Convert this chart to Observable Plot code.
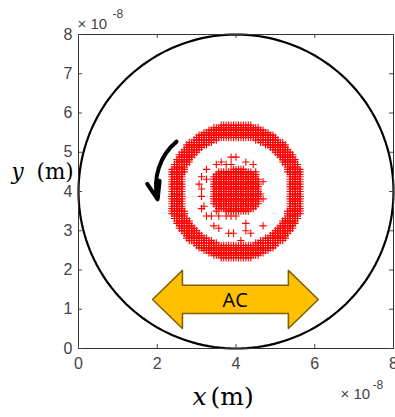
<!DOCTYPE html>
<html><head><meta charset="utf-8">
<script src="https://cdn.jsdelivr.net/npm/d3@7"></script>
<script src="https://cdn.jsdelivr.net/npm/@observablehq/plot@0.6"></script>
<style>html,body{margin:0;padding:0;background:#fff;} #chart svg{display:block}</style>
</head><body><div id="chart"></div>
<script>
// Axis domains and ticks (units of 1e-8 m)
const xDomain = [0, 8];
const yDomain = [0, 8];
const xTicks = [0, 2, 4, 6, 8];
const yTicks = [0, 1, 2, 3, 4, 5, 6, 7, 8];
const exponentText = ["× 10", "-8"];
const xTitle = ["x", "(m)"];
const yTitle = ["y", "(m)"];

// Circular boundary
const boundaryCenter = [4, 4];
const boundaryRadius = [4];

// Particle lattice, run-length coded rows, top to bottom
const latticeCenter = [4, 4];
const latticeStep = [0.0625];
const particleRows = [
  "21.13#21.",
  "18.19#18.",
  "16.23#16.",
  "14.27#14.",
  "12.31#12.",
  "11.33#11.",
  "10.10#15.10#10.",
  "8.10#19.10#8.",
  "7.9#23.9#7.",
  "7.7#27.7#7.",
  "6.7#29.7#6.",
  "5.7#31.7#5.",
  "4.7#33.7#4.",
  "4.6#15.1#1.1#17.6#4.",
  "3.6#37.6#3.",
  "3.6#12.1#9.1#14.6#3.",
  "2.6#11.1#3.1#1.1#8.1#12.6#2.",
  "2.5#41.5#2.",
  "1.6#8.1#10.5#17.6#1.",
  "1.6#13.14#1.1#12.6#1.",
  "1.5#13.17#13.5#1.",
  "1.5#7.1#4.18#13.5#1.",
  "1.5#9.1#2.19#12.5#1.",
  "1.5#12.19#1.1#10.5#1.",
  "1.5#6.1#5.19#12.5#1.",
  "1.5#12.19#12.5#1.",
  "1.5#7.1#4.19#12.5#1.",
  "1.5#12.19#12.5#1.",
  "1.5#12.20#11.5#1.",
  "1.5#7.1#4.19#12.5#1.",
  "1.5#12.19#1.1#10.5#1.",
  "1.5#12.19#12.5#1.",
  "1.5#12.19#12.5#1.",
  "1.5#8.1#4.17#13.5#1.",
  "1.5#7.1#6.15#14.5#1.",
  "1.6#12.1#3.10#15.6#1.",
  "1.6#41.6#1.",
  "2.5#8.1#1.1#2.1#2.1#1.1#1.1#20.5#2.",
  "2.6#39.6#2.",
  "3.6#37.6#3.",
  "3.6#22.1#14.6#3.",
  "4.6#8.1#19.1#6.6#4.",
  "4.7#9.1#23.7#4.",
  "5.7#19.1#11.7#5.",
  "6.7#11.1#1.1#6.1#8.7#6.",
  "7.7#27.7#7.",
  "7.9#23.9#7.",
  "8.10#11.1#7.10#8.",
  "10.10#15.10#10.",
  "11.33#11.",
  "12.31#12.",
  "14.27#14.",
  "16.23#16.",
  "18.19#18.",
  "21.13#21."
];

// Annotations
const rotationArrow = [{x1: 2.49, y1: 5.27, x2: 2.01, y2: 3.80}];
const acArrowX = [1.88, 2.64, 2.64, 5.33, 5.33, 6.09, 5.33, 5.33, 2.64, 2.64];
const acArrowY = [1.25, 1.99, 1.61, 1.61, 1.99, 1.25, 0.51, 0.89, 0.89, 0.51];
const acLabel = ["AC"];
const acLabelPos = [3.98, 1.22];

// Build tables
const half = (particleRows.length - 1) / 2;
const particles = [];
particleRows.forEach((row, r) => {
  let col = 0;
  for (const m of row.matchAll(/(\d+)([.#])/g)) {
    const n = +m[1];
    for (let k = 0; k < n; k++) {
      if (m[2] === "#") particles.push({
        x: latticeCenter[0] + (col - half) * latticeStep[0],
        y: latticeCenter[1] + (half - r) * latticeStep[0]
      });
      col++;
    }
  }
  if (col !== particleRows.length) console.warn("row", r, "length", col);
});

const circlePts = d3.range(0, 361, 2).map(a => ({
  x: boundaryCenter[0] + boundaryRadius[0] * Math.cos(a * Math.PI / 180),
  y: boundaryCenter[1] + boundaryRadius[0] * Math.sin(a * Math.PI / 180)
}));
const acArrow = acArrowX.map((x, i) => ({x, y: acArrowY[i]}));

const tickLen = 0.1;
const axisColor = "#444";
const sans = "'Liberation Sans', Arial, sans-serif";
const serif = "'DejaVu Serif', serif";

const chart = Plot.plot({
  width: 395, height: 417,
  marginLeft: 78, marginRight: 2, marginTop: 34, marginBottom: 69,
  x: {domain: xDomain},
  y: {domain: yDomain},
  style: {fontFamily: sans, fontSize: "16px", color: axisColor, background: "#fff", overflow: "visible"},
  marks: [
    Plot.line(circlePts, {x: "x", y: "y", stroke: "#000", strokeWidth: 2.2}),
    Plot.dot(particles, {x: "x", y: "y", symbol: "plus", r: 2.5, stroke: "#ff0000", strokeWidth: 1.1}),
    Plot.arrow(rotationArrow, {x1: "x1", y1: "y1", x2: "x2", y2: "y2", bend: -32, stroke: "#000", strokeWidth: 4, headLength: 7, headAngle: 40}),
    Plot.line(acArrow, {x: "x", y: "y", curve: "linear-closed", fill: "#FFC000", stroke: "#7F6000", strokeWidth: 1.5}),
    Plot.text(acLabel, {x: () => acLabelPos[0], y: () => acLabelPos[1], text: d => d, fontSize: 20, fontFamily: "'Open Sans', sans-serif", fill: "#000"}),
    Plot.frame({stroke: "#333", strokeWidth: 1}),
    Plot.ruleX(xTicks, {x: d => d, y1: yDomain[0], y2: yDomain[0] + tickLen, stroke: axisColor}),
    Plot.ruleX(xTicks, {x: d => d, y1: yDomain[1] - tickLen, y2: yDomain[1], stroke: axisColor}),
    Plot.ruleY(yTicks, {y: d => d, x1: xDomain[0], x2: xDomain[0] + tickLen, stroke: axisColor}),
    Plot.ruleY(yTicks, {y: d => d, x1: xDomain[1] - tickLen, x2: xDomain[1], stroke: axisColor}),
    Plot.axisX({ticks: xTicks, tickSize: 0, tickPadding: 9, fontSize: 16, label: null, tickFormat: d => String(d)}),
    Plot.axisY({ticks: yTicks, tickSize: 0, tickPadding: 6, fontSize: 16, label: null, tickFormat: d => String(d)}),
    Plot.text([exponentText[0]], {frameAnchor: "top-left", lineAnchor: "middle", text: d => d, textAnchor: "start", dx: -1, dy: -10.8, fontSize: 15, fill: axisColor}),
    Plot.text([exponentText[1]], {frameAnchor: "top-left", lineAnchor: "middle", text: d => d, textAnchor: "start", dx: 34, dy: -20.8, fontSize: 12, fill: axisColor}),
    Plot.text([exponentText[0]], {frameAnchor: "bottom-right", lineAnchor: "middle", text: d => d, textAnchor: "start", dx: -53, dy: 45.2, fontSize: 15, fill: axisColor}),
    Plot.text([exponentText[1]], {frameAnchor: "bottom-right", lineAnchor: "middle", text: d => d, textAnchor: "start", dx: -21, dy: 36.2, fontSize: 12, fill: axisColor}),
    Plot.text([yTitle[0]], {frameAnchor: "left", lineAnchor: "middle", text: d => d, textAnchor: "start", dx: -67, dy: -19.6, fontSize: 21.5, fontFamily: serif, fontStyle: "italic", fill: "#000"}),
    Plot.text([yTitle[1]], {frameAnchor: "left", lineAnchor: "middle", text: d => d, textAnchor: "start", dx: -42, dy: -19.6, fontSize: 21.5, fontFamily: serif, fill: "#000"}),
    Plot.text([xTitle[0]], {frameAnchor: "bottom", lineAnchor: "middle", text: d => d, textAnchor: "start", dx: -43.5, dy: 48.3, fontSize: 25, fontFamily: serif, fontStyle: "italic", fill: "#000"}),
    Plot.text([xTitle[1]], {frameAnchor: "bottom", lineAnchor: "middle", text: d => d, textAnchor: "start", dx: -25.5, dy: 48.3, fontSize: 25, fontFamily: serif, fill: "#000"})
  ]
});
document.getElementById("chart").appendChild(chart);
</script>
</body></html>
